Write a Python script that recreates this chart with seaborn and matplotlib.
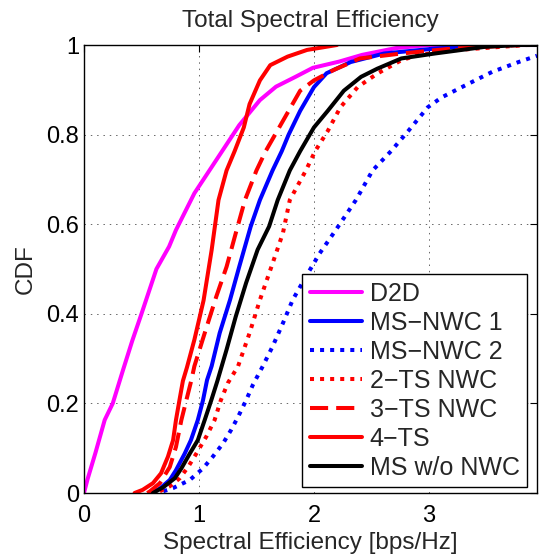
import pandas as pd
import matplotlib
matplotlib.use("Agg")
import matplotlib.pyplot as plt
import seaborn as sns
from matplotlib.ticker import FormatStrFormatter

# CDF curves (spectral efficiency, cdf)
d2d_x = [0.0, 0.03, 0.10, 0.18, 0.25, 0.34, 0.42, 0.50, 0.63, 0.74, 0.80, 0.96, 1.15,
         1.35, 1.53, 1.67, 1.84, 1.99, 2.22, 2.42, 2.71, 3.0, 3.94]
d2d_y = [0.0, 0.03, 0.09, 0.163, 0.2, 0.275, 0.34, 0.4, 0.5, 0.55, 0.587, 0.669, 0.743,
         0.821, 0.877, 0.907, 0.929, 0.949, 0.963, 0.978, 0.993, 1.0, 1.0]

msnwc1_x = [0.587, 0.66, 0.746, 0.80, 0.876, 0.93, 0.99, 1.035, 1.07, 1.11, 1.18, 1.27, 1.35,
            1.45, 1.53, 1.64, 1.72, 1.78, 1.88, 2.00, 2.11, 2.32, 2.61, 3.05, 3.50, 3.94]
msnwc1_y = [0.0, 0.010, 0.029, 0.051, 0.088, 0.118, 0.163, 0.207, 0.252, 0.283, 0.357, 0.431, 0.505,
            0.595, 0.654, 0.72, 0.763, 0.8, 0.853, 0.906, 0.937, 0.962, 0.981, 0.992, 1.0, 1.0]

msnwc2_x = [0.69, 0.775, 0.92, 1.035, 1.12, 1.21, 1.28, 1.34, 1.41, 1.47, 1.555, 1.64, 1.73,
            1.815, 1.93, 2.05, 2.19, 2.365, 2.51, 2.67, 2.82, 2.99, 3.11, 3.34, 3.55, 3.78, 3.94]
msnwc2_y = [0.004, 0.011, 0.029, 0.055, 0.081, 0.111, 0.141, 0.170, 0.207, 0.242, 0.283, 0.327, 0.379,
            0.431, 0.483, 0.535, 0.587, 0.654, 0.72, 0.763, 0.808, 0.861, 0.883, 0.913, 0.94, 0.962, 0.976]

ts2_x = [0.66, 0.746, 0.833, 0.905, 0.977, 1.064, 1.136, 1.19, 1.25, 1.34, 1.44, 1.53, 1.63,
         1.73, 1.79, 1.93, 2.01, 2.12, 2.23, 2.38, 2.55, 2.76, 2.90, 3.20, 3.63, 3.85, 3.94]
ts2_y = [0.004, 0.015, 0.033, 0.058, 0.088, 0.126, 0.163, 0.207, 0.245, 0.283, 0.357, 0.431, 0.505,
         0.58, 0.654, 0.72, 0.763, 0.808, 0.861, 0.906, 0.936, 0.966, 0.977, 0.988, 0.996, 1.0, 1.0]

ts3_x = [0.55, 0.57, 0.66, 0.746, 0.80, 0.847, 0.89, 0.934, 0.96, 1.05, 1.15, 1.24, 1.32, 1.40,
         1.50, 1.58, 1.68, 1.80, 1.88, 2.00, 2.17, 2.40, 2.76, 3.20, 3.80, 3.94]
ts3_y = [0.0, 0.003, 0.022, 0.058, 0.103, 0.163, 0.207, 0.252, 0.283, 0.357, 0.438, 0.505, 0.58, 0.654,
         0.72, 0.763, 0.808, 0.862, 0.898, 0.921, 0.944, 0.97, 0.981, 0.992, 1.0, 1.0]

ts4_x = [0.44, 0.51, 0.60, 0.67, 0.73, 0.775, 0.80, 0.83, 0.86, 0.895, 0.96, 1.04, 1.11, 1.17,
         1.24, 1.31, 1.39, 1.44, 1.53, 1.62, 1.77, 1.94, 2.20]
ts4_y = [0.0, 0.007, 0.022, 0.044, 0.081, 0.118, 0.163, 0.207, 0.25, 0.28, 0.342, 0.43, 0.542, 0.654,
         0.72, 0.763, 0.816, 0.868, 0.921, 0.955, 0.974, 0.989, 1.0]

ms_x = [0.60, 0.69, 0.79, 0.847, 0.92, 0.99, 1.05, 1.107, 1.16, 1.24, 1.32, 1.41, 1.51, 1.61,
        1.685, 1.79, 1.88, 2.00, 2.12, 2.26, 2.41, 2.55, 2.76, 3.05, 3.49, 3.80, 3.94]
ms_y = [0.0, 0.013, 0.033, 0.055, 0.088, 0.118, 0.163, 0.207, 0.25, 0.32, 0.394, 0.469, 0.543, 0.595,
        0.654, 0.72, 0.763, 0.816, 0.853, 0.898, 0.929, 0.947, 0.97, 0.981, 0.996, 1.0, 1.0]

schemes = ['D2D', 'MS\u2212NWC 1', 'MS\u2212NWC 2', '2\u2212TS NWC', '3\u2212TS NWC', '4\u2212TS', 'MS w/o NWC']
series = [(d2d_x, d2d_y), (msnwc1_x, msnwc1_y), (msnwc2_x, msnwc2_y), (ts2_x, ts2_y),
          (ts3_x, ts3_y), (ts4_x, ts4_y), (ms_x, ms_y)]

colors = ['#ff00ff', '#0000ff', '#0000ff', '#ff0000', '#ff0000', '#ff0000', '#000000']
dashes = ['', '', (1, 1.5), (1, 1.5), (4.5, 2), '', '']

frames = []
for name, (xs, ys) in zip(schemes, series):
    frames.append(pd.DataFrame({'se': xs, 'cdf': ys, 'scheme': name}))
df = pd.concat(frames, ignore_index=True)

sns.set_style('white')
plt.rcParams['font.family'] = ['Liberation Sans', 'DejaVu Sans']

fig = plt.figure(figsize=(5.39, 5.57), dpi=100)
ax = fig.add_axes([84 / 539, 64 / 557, 453 / 539, 448 / 557])

sns.lineplot(data=df, x='se', y='cdf', hue='scheme', style='scheme',
             hue_order=schemes, style_order=schemes,
             palette=dict(zip(schemes, colors)), dashes=dict(zip(schemes, dashes)),
             sort=False, estimator=None, linewidth=2.9, legend=False, ax=ax)

ax.set_xlim(0, 3.94)
ax.set_ylim(0, 1)
ax.set_xticks([0, 1, 2, 3])
ax.set_yticks([0, 0.2, 0.4, 0.6, 0.8, 1.0])
ax.yaxis.set_major_formatter(FormatStrFormatter('%g'))
ax.grid(True, linestyle=(0, (1.5, 5)), color='0.4', linewidth=0.7)
ax.tick_params(direction='in', top=True, right=True, length=5, width=0.8,
               labelsize=17, colors='black')
ax.tick_params(axis='x', pad=9)
for sp in ax.spines.values():
    sp.set_color('black')
    sp.set_linewidth(1.0)

ax.set_xlabel('Spectral Efficiency [bps/Hz]', fontsize=17.5, labelpad=3)
ax.set_ylabel('CDF', fontsize=17.5, labelpad=7)
ax.set_title('Total Spectral Efficiency', fontsize=17.5, pad=13)

leg = ax.legend(ax.lines[:len(schemes)], schemes, loc='lower right',
                bbox_to_anchor=(0.978, 0.013), borderaxespad=0, fontsize=18,
                labelspacing=0.2, handlelength=2.1, handletextpad=0.3,
                borderpad=0.3, fancybox=False, framealpha=1)
leg.get_frame().set_edgecolor('black')
leg.get_frame().set_linewidth(1.0)

plt.savefig('out.png', dpi=100)
